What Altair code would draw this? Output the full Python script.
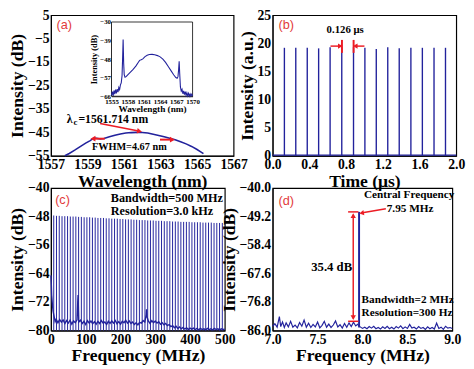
import altair as alt
import pandas as pd

BLUE = "#22229c"
RED = "#ec1c24"
LABEL_RED = "#e23b3b"
SERIF = "Liberation Serif"
SANS = "Liberation Sans"

# ---------------- (a) optical spectrum ----------------
a_wl = [1557.76, 1558.0, 1558.3, 1558.6, 1558.9, 1559.15, 1559.35, 1559.5, 1559.7, 1559.9,
        1560.2, 1560.5, 1560.8, 1561.1, 1561.4, 1561.7, 1562.0, 1562.3, 1562.6, 1562.9,
        1563.2, 1563.5, 1563.8, 1564.1, 1564.4, 1564.7, 1565.0, 1565.2, 1565.35]
a_db = [-55.0, -54.0, -52.6, -51.1, -49.6, -48.5, -47.4, -47.5, -47.8, -47.6,
        -46.9, -46.2, -45.7, -45.3, -45.1, -45.0, -45.05, -45.3, -45.8, -46.3,
        -46.9, -47.5, -48.2, -49.0, -49.9, -51.0, -52.3, -53.3, -54.1]
a_xticks = [1557, 1559, 1561, 1563, 1565, 1567]
a_yticks = [5, -5, -15, -25, -35, -45, -55]

inset_pts = [
    (1555.0, -65.5), (1555.15, -63.8), (1555.3, -65.8), (1555.45, -63.2), (1555.6, -65.0),
    (1555.75, -62.8), (1555.9, -64.6), (1556.05, -62.5), (1556.2, -64.0), (1556.35, -61.8),
    (1556.5, -62.8), (1556.65, -60.5), (1556.8, -59.5), (1556.95, -56.0), (1557.05, -48.0),
    (1557.15, -38.5), (1557.25, -50.0), (1557.35, -55.5), (1557.5, -56.8), (1557.7, -56.5),
    (1558.0, -55.6), (1558.5, -54.3), (1559.0, -53.0), (1559.5, -51.4), (1560.0, -49.4),
    (1560.2, -48.6), (1560.5, -48.3), (1560.8, -47.9), (1561.2, -46.8), (1561.6, -46.1),
    (1562.0, -45.8), (1562.5, -45.7), (1563.0, -45.9), (1563.5, -46.3), (1564.0, -46.9),
    (1564.5, -48.0), (1565.0, -49.6), (1565.5, -51.6), (1566.0, -53.6), (1566.5, -55.6),
    (1566.9, -56.9), (1567.15, -57.3), (1567.3, -56.5), (1567.42, -53.0), (1567.52, -49.1),
    (1567.62, -55.0), (1567.75, -61.5), (1567.9, -63.5), (1568.05, -62.6), (1568.2, -64.8),
    (1568.35, -63.4), (1568.5, -65.2), (1568.65, -63.8), (1568.8, -65.6), (1568.95, -64.3),
    (1569.1, -65.8), (1569.25, -64.6), (1569.4, -65.9), (1569.55, -64.9), (1569.7, -65.9),
    (1569.85, -65.0), (1570.0, -65.8)]
inset_xticks = [1555, 1558, 1561, 1564, 1567, 1570]
inset_yticks = [-30, -39, -48, -57, -66]

# ---------------- (b) pulse train ----------------
b_t = [0.128, 0.252, 0.377, 0.501, 0.626, 0.753, 0.881, 1.005, 1.129, 1.254,
       1.379, 1.506, 1.631, 1.758, 1.883]
b_h = [19.2, 19.2, 19.2, 19.1, 19.3, 19.3, 19.3, 19.2, 19.0, 19.3,
       19.1, 19.2, 19.2, 19.2, 19.2]
b_xticks = [0.0, 0.4, 0.8, 1.2, 1.6, 2.0]
b_yticks = [0, 5, 10, 15, 20, 25]

# ---------------- (c) RF spectrum 500 MHz ----------------
c_freq = [7.95, 15.9, 23.85, 31.8, 39.75, 47.7, 55.65, 63.6, 71.55, 79.5,
          87.45, 95.4, 103.35, 111.3, 119.25, 127.2, 135.15, 143.1, 151.05, 159.0,
          166.95, 174.9, 182.85, 190.8, 198.75, 206.7, 214.65, 222.6, 230.55, 238.5,
          246.45, 254.4, 262.35, 270.3, 278.25, 286.2, 294.15, 302.1, 310.05, 318.0,
          325.95, 333.9, 341.85, 349.8, 357.75, 365.7, 373.65, 381.6, 389.55, 397.5,
          405.45, 413.4, 421.35, 429.3, 437.25, 445.2, 453.15, 461.1, 469.05, 477.0,
          484.95, 492.9]
c_peak = [-47.7, -47.8, -47.8, -47.9, -47.9, -47.9, -48.0, -48.0, -48.0, -48.1,
          -48.1, -48.2, -48.2, -48.2, -48.3, -48.3, -48.4, -48.4, -48.4, -48.5,
          -48.5, -48.6, -48.6, -48.6, -48.7, -48.7, -48.8, -48.8, -48.8, -48.9,
          -48.9, -49.0, -49.0, -49.0, -49.1, -49.1, -49.1, -49.2, -49.2, -49.2,
          -49.3, -49.3, -49.3, -49.4, -49.4, -49.4, -49.5, -49.5, -49.5, -49.5,
          -49.6, -49.6, -49.6, -49.6, -49.7, -49.7, -49.7, -49.7, -49.8, -49.8,
          -49.8, -49.8]
c_floor = [
    (0, -64.5), (1, -67.0), (2, -70.0), (4, -72.5), (6, -74.5), (8, -75.5), (10, -76.5),
    (12, -77.5), (15, -76.8), (20, -77.8), (25, -76.9), (30, -77.6), (35, -77.0), (40, -78.0),
    (45, -77.2), (50, -77.9), (55, -77.1), (60, -78.2), (65, -77.3), (70, -77.8), (75, -77.0),
    (77, -72.0), (78, -70.0), (79, -74.0), (80, -77.6), (85, -77.1), (90, -78.0), (95, -77.4),
    (100, -78.3), (105, -77.2), (110, -77.9), (115, -77.3), (120, -78.1), (125, -77.5),
    (130, -78.2), (135, -77.4), (140, -78.0), (145, -77.2), (150, -77.9), (155, -77.6),
    (160, -78.3), (165, -77.4), (170, -78.0), (175, -77.3), (180, -77.9), (185, -77.2),
    (190, -78.1), (195, -77.5), (200, -78.2), (205, -77.4), (210, -77.8), (215, -77.1),
    (220, -77.9), (225, -77.3), (230, -78.0), (235, -77.6), (240, -78.3), (245, -77.8),
    (250, -78.4), (255, -77.7), (260, -77.9), (265, -77.2), (270, -77.6), (274, -75.5),
    (275, -74.0), (276, -76.0), (280, -77.3), (285, -78.0), (290, -77.2), (295, -77.8),
    (300, -77.3), (305, -77.9), (310, -77.5), (315, -78.2), (320, -77.8), (325, -78.4),
    (330, -78.0), (335, -78.6), (340, -78.3), (345, -78.9), (350, -78.6), (355, -79.2),
    (360, -78.8), (365, -79.4), (370, -79.0), (375, -79.5), (380, -79.1), (385, -79.6),
    (390, -79.2), (395, -79.7), (400, -79.3), (405, -79.6), (410, -79.3), (415, -79.7),
    (420, -79.4), (425, -79.8), (430, -79.4), (435, -79.7), (440, -79.5), (445, -79.8),
    (450, -79.4), (455, -79.7), (460, -79.5), (465, -79.8), (470, -79.4), (475, -79.7),
    (480, -79.5), (485, -79.8), (490, -79.5), (495, -79.7), (500, -79.6)]
c_xticks = [0, 100, 200, 300, 400, 500]
c_yticks = [-80, -72, -64, -56, -48, -40]

# ---------------- (d) RF spectrum 2 MHz ----------------
d_floor = [
    (7.000, -84.6), (7.025, -83.8), (7.050, -84.9), (7.075, -81.5), (7.090, -84.7),
    (7.110, -83.2), (7.130, -85.0), (7.150, -83.5), (7.175, -84.8), (7.200, -83.0),
    (7.225, -84.9), (7.250, -84.2), (7.275, -85.1), (7.300, -83.4), (7.325, -84.6),
    (7.350, -82.6), (7.375, -84.9), (7.400, -83.6), (7.425, -85.0), (7.450, -84.0),
    (7.475, -84.8), (7.500, -83.2), (7.525, -85.1), (7.550, -84.3), (7.575, -83.0),
    (7.600, -84.9), (7.625, -83.9), (7.650, -85.0), (7.675, -84.2), (7.700, -82.9),
    (7.725, -84.8), (7.750, -84.1), (7.775, -85.2), (7.800, -83.7), (7.825, -84.9),
    (7.850, -83.5), (7.875, -84.7), (7.900, -83.3), (7.925, -84.5), (7.945, -84.0),
    (7.975, -84.8), (8.000, -85.3), (8.025, -84.9), (8.050, -85.4), (8.075, -84.7),
    (8.100, -85.2), (8.125, -84.6), (8.150, -85.4), (8.175, -85.0), (8.200, -85.5),
    (8.225, -84.8), (8.250, -85.3), (8.275, -84.6), (8.300, -85.4), (8.325, -84.9),
    (8.350, -85.5), (8.375, -84.7), (8.400, -85.2), (8.425, -84.5), (8.450, -85.4),
    (8.475, -84.8), (8.500, -85.3), (8.525, -84.0), (8.550, -85.2), (8.575, -84.9),
    (8.600, -85.5), (8.625, -84.7), (8.650, -85.3), (8.675, -85.0), (8.700, -85.6),
    (8.725, -84.8), (8.750, -85.4), (8.775, -85.0), (8.800, -85.5), (8.825, -83.6),
    (8.850, -85.3), (8.875, -84.9), (8.900, -85.6), (8.925, -84.6), (8.950, -85.2),
    (8.975, -85.0), (9.000, -85.3)]
d_spike_f = [7.962]
d_spike_top = [-47.7]
d_xticks = [7.0, 7.5, 8.0, 8.5, 9.0]
d_yticks = [-86.0, -76.8, -67.6, -58.4, -49.2, -40.0]


# ---------------- helpers ----------------
def axis(values, title, fmt=None, **kw):
    opts = dict(values=values, title=title, grid=False, ticks=False, tickSize=0,
                labelPadding=2, titlePadding=1)
    if fmt:
        opts["format"] = fmt
    opts.update(kw)
    return alt.Axis(**opts)


def enc_factory(xdom, ydom, xax, yax, xrange=None, yrange=None):
    sx = dict(domain=xdom, nice=False, zero=False)
    sy = dict(domain=ydom, nice=False, zero=False)
    if xrange:
        sx["range"] = xrange
    if yrange:
        sy["range"] = yrange
    sxs, sys_ = alt.Scale(**sx), alt.Scale(**sy)

    def X(f):
        return alt.X(f, type="quantitative", scale=sxs, axis=xax)

    def Y(f):
        return alt.Y(f, type="quantitative", scale=sys_, axis=yax)
    return X, Y


def df1(**kw):
    return pd.DataFrame({k: [v] for k, v in kw.items()})


def text(X, Y, x, y, label, size=12, align="center", color="black", weight="bold",
         font=SERIF, dx=0, dy=0):
    return alt.Chart(df1(x=x, y=y, label=label)).mark_text(
        fontSize=size, align=align, baseline="middle", color=color, fontWeight=weight,
        font=font, dx=dx, dy=dy).encode(x=X("x"), y=Y("y"), text="label:N")


def seg(X, Y, x, y, x2, y2, width=1.5):
    return alt.Chart(df1(x=x, y=y, x2=x2, y2=y2)).mark_rule(
        color=RED, strokeWidth=width).encode(x=X("x"), y=Y("y"), x2="x2", y2="y2")


def head(X, Y, x, y, shape, angle=0, size=34):
    return alt.Chart(df1(x=x, y=y)).mark_point(
        shape=shape, filled=True, size=size, color=RED, opacity=1, angle=angle,
        strokeWidth=0).encode(x=X("x"), y=Y("y"))


def plabel(X, Y, x, y, s):
    return text(X, Y, x, y, s, size=13, align="left", color=LABEL_RED,
                weight="normal", font=SANS)


# ---------------- panel (a) ----------------
XA, YA = enc_factory([1557, 1567], [-55, 5],
                     axis(a_xticks, "Wavelength (nm)", fmt="d", labelFlush=False),
                     axis(a_yticks, "Intensity (dB)", fmt="d"))
df_a = pd.DataFrame({"x": a_wl, "y": a_db})
main_a = alt.layer(
    alt.Chart(df_a).mark_line(color=BLUE, strokeWidth=1.6).encode(x=XA("x"), y=YA("y")),
    seg(XA, YA, 1559.69, -41.2, 1561.8, -44.4),
    head(XA, YA, 1561.85, -44.5, "triangle-right", angle=11),
    seg(XA, YA, 1559.95, -47.7, 1559.35, -47.7, width=2),
    head(XA, YA, 1559.3, -47.7, "triangle-left"),
    seg(XA, YA, 1562.97, -48.1, 1563.6, -48.1, width=2),
    head(XA, YA, 1563.65, -48.1, "triangle-right"),
    text(XA, YA, 1557.86, -39.2, "λ", size=12, align="left"),
    text(XA, YA, 1557.86, -39.2, "c", size=9, align="left", dx=7, dy=3),
    text(XA, YA, 1557.86, -39.2, "=1561.714 nm", size=12, align="left", dx=12),
    text(XA, YA, 1561.29, -51.1, "FWHM=4.67 nm", size=10.5),
    plabel(XA, YA, 1557.3, 0.9, "(a)"),
)

XI, YI = enc_factory([1555, 1570], [-66, -30],
                     axis(inset_xticks, "Wavelength (nm)", fmt="d", orient="bottom",
                          offset=-61, labelFontSize=7, titleFontSize=9.5, labelPadding=1,
                          titlePadding=0, labelFlush=False),
                     axis(inset_yticks, "Intensity (dB)", fmt="d", orient="left", offset=-62,
                          labelFontSize=7, titleFontSize=8.5, labelPadding=1,
                          titlePadding=1),
                     xrange=[62, 145], yrange=[83, 7])
df_i = pd.DataFrame(inset_pts, columns=["x", "y"])
inset = alt.layer(
    alt.Chart(df1(x=1555, x2=1570, y=-66, y2=-30)).mark_rect(
        fill="white", stroke="black", strokeWidth=0.8).encode(
        x=XI("x"), x2="x2", y=YI("y"), y2="y2"),
    alt.Chart(df_i).mark_line(color=BLUE, strokeWidth=1.1).encode(x=XI("x"), y=YI("y")),
)
pa = alt.layer(main_a, inset).resolve_scale(x="independent", y="independent").resolve_axis(
    x="independent", y="independent").properties(width=187, height=144)

# ---------------- panel (b) ----------------
XB, YB = enc_factory([0, 2], [0, 25],
                     axis(b_xticks, "Time (μs)", fmt=".1f", labelFlush=False),
                     axis(b_yticks, "Intensity (a.u.)"))
df_b = pd.DataFrame({"x": b_t, "y": [0.0] * len(b_t), "y2": b_h})
pb = alt.layer(
    alt.Chart(df1(x=0.0, x2=2.0, y=0.12)).mark_rule(color=BLUE, strokeWidth=1.2).encode(
        x=XB("x"), x2="x2", y=YB("y")),
    alt.Chart(df_b).mark_rule(color=BLUE, strokeWidth=1.4).encode(
        x=XB("x"), y=YB("y"), y2="y2"),
    seg(XB, YB, 0.755, 18.3, 0.755, 20.6, width=2),
    seg(XB, YB, 0.882, 18.3, 0.882, 20.6, width=2),
    seg(XB, YB, 0.63, 19.5, 0.735, 19.5),
    head(XB, YB, 0.737, 19.5, "triangle-right", size=30),
    seg(XB, YB, 1.0, 19.5, 0.905, 19.5),
    head(XB, YB, 0.9, 19.5, "triangle-left", size=30),
    text(XB, YB, 0.79, 22.4, "0.126 μs", size=11),
    plabel(XB, YB, 0.064, 23.3, "(b)"),
).properties(width=188, height=144)

# ---------------- panel (c) ----------------
XC, YC = enc_factory([0, 500], [-80, -40],
                     axis(c_xticks, "Frequency (MHz)", fmt="d", labelFlush=False),
                     axis(c_yticks, "Intensity (dB)"))
df_c = pd.DataFrame({"x": c_freq, "y": [-80.0] * len(c_freq), "y2": c_peak})
df_cf = pd.DataFrame(c_floor, columns=["x", "y"])
pc = alt.layer(
    alt.Chart(df_c).mark_rule(color=BLUE, strokeWidth=1).encode(
        x=XC("x"), y=YC("y"), y2="y2"),
    alt.Chart(df_cf).mark_line(color=BLUE, strokeWidth=1.4).encode(x=XC("x"), y=YC("y")),
    text(XC, YC, 172, -42.7, "Bandwidth=500 MHz", size=12.5, align="left"),
    text(XC, YC, 172, -46.4, "Resolution=3.0 kHz", size=12.5, align="left"),
    plabel(XC, YC, 12, -43.5, "(c)"),
).properties(width=178, height=146)

# ---------------- panel (d) ----------------
XD, YD = enc_factory([7, 9], [-86, -40],
                     axis(d_xticks, "Frequency (MHz)", fmt=".1f", labelFlush=False),
                     axis(d_yticks, "Intensity (dB)", fmt=".1f"))
df_df = pd.DataFrame(d_floor, columns=["x", "y"])
df_ds = pd.DataFrame({"x": d_spike_f, "y": [-85.0], "y2": d_spike_top})
pd_ = alt.layer(
    alt.Chart(df_df).mark_line(color=BLUE, strokeWidth=1.2).encode(x=XD("x"), y=YD("y")),
    alt.Chart(df_ds).mark_rule(color=BLUE, strokeWidth=2).encode(
        x=XD("x"), y=YD("y"), y2="y2"),
    seg(XD, YD, 7.897, -48.6, 7.897, -82.1, width=1.5),
    seg(XD, YD, 7.84, -47.7, 7.955, -47.7, width=1.5),
    seg(XD, YD, 7.84, -83.0, 7.955, -83.0, width=1.5),
    head(XD, YD, 7.897, -48.9, "triangle-up", size=30),
    head(XD, YD, 7.897, -81.8, "triangle-down", size=30),
    text(XD, YD, 7.885, -65.4, "35.4 dB", size=13, align="right"),
    text(XD, YD, 8.52, -42.4, "Central Frequency", size=11.5),
    text(XD, YD, 8.53, -46.7, "7.95 MHz", size=11.5),
    seg(XD, YD, 8.26, -46.7, 8.0, -48.0),
    head(XD, YD, 7.99, -48.05, "triangle-left", angle=350, size=30),
    text(XD, YD, 7.99, -76.0, "Bandwidth=2 MHz", size=11.5, align="left"),
    text(XD, YD, 7.99, -80.2, "Resolution=300 Hz", size=11.5, align="left"),
    plabel(XD, YD, 7.065, -44.2, "(d)"),
).properties(width=184, height=146)

chart = alt.concat(
    pa, pb, pc, pd_, columns=2, spacing={"row": 33, "column": 40}, bounds="flush"
).properties(
    padding={"top": -5, "left": 0, "right": 0, "bottom": 0}
).configure_view(
    stroke="black", strokeWidth=1.2
).configure_axis(
    labelFont=SERIF, labelFontWeight="bold", labelFontSize=14, labelColor="black",
    titleFont=SERIF, titleFontWeight="bold", titleFontSize=18, titleColor="black",
    domainColor="black", domainWidth=1
)

chart.save("out.html", embed_options={"renderer": "svg", "actions": False})
